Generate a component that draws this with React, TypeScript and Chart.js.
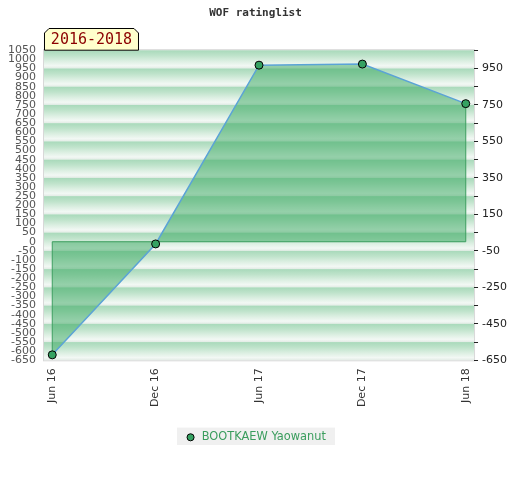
import React, { useEffect, useRef } from "react";
import { Chart, registerables } from "chart.js";

Chart.register(...registerables);

const categories = ["Jun 16", "Dec 16", "Jun 17", "Dec 17", "Jun 18"];
const ratings = [-620, -12, 968, 974, 757];
const leftTicks = [1050, 1000, 950, 900, 850, 800, 750, 700, 650, 600, 550, 500, 450, 400, 350, 300, 250, 200, 150, 100, 50, 0, -50, -100, -150, -200, -250, -300, -350, -400, -450, -500, -550, -600, -650];
const rightTicks = [1050, 950, 850, 750, 650, 550, 450, 350, 250, 150, 50, -50, -150, -250, -350, -450, -550, -650];
const rightLabels = [950, 750, 550, 350, 150, -50, -250, -450, -650];
const seriesName = "BOOTKAEW Yaowanut";
const periodLabel = "2016-2018";
const chartTitle = "WOF ratinglist";

const Y_MIN = -650;
const Y_MAX = 1050;

const bgPlugin = {
  id: "bgStripes",
  beforeDraw(chart: any) {
    const { ctx, chartArea, scales } = chart;
    const y = scales.y;
    ctx.save();
    ctx.fillStyle = "#f4faf6";
    ctx.fillRect(chartArea.left, chartArea.top, chartArea.right - chartArea.left, chartArea.bottom - chartArea.top);
    for (let v = Y_MAX; v > Y_MIN; v -= 100) {
      const top = y.getPixelForValue(v);
      const bot = y.getPixelForValue(Math.max(v - 100, Y_MIN));
      const g = ctx.createLinearGradient(0, top, 0, y.getPixelForValue(v - 100));
      g.addColorStop(0, "#a8d9ba");
      g.addColorStop(0.3, "#bfe3cb");
      g.addColorStop(0.6, "#dcefe2");
      g.addColorStop(0.85, "#f2f8f4");
      g.addColorStop(1, "#e2ebe5");
      ctx.fillStyle = g;
      ctx.fillRect(chartArea.left, top, chartArea.right - chartArea.left, bot - top);
    }
    ctx.strokeStyle = "#d8d8d8";
    ctx.lineWidth = 1;
    ctx.strokeRect(chartArea.left - 0.5, chartArea.top - 0.5, chartArea.right - chartArea.left + 1, chartArea.bottom - chartArea.top + 1);
    const lg = chart.legend;
    if (lg && lg.legendHitBoxes && lg.legendHitBoxes.length) {
      const hb = lg.legendHitBoxes[0];
      ctx.fillStyle = "#f0f0f0";
      ctx.fillRect(hb.left - 8, hb.top - 4, hb.width + 17, hb.height + 6);
    }
    ctx.restore();
  },
  beforeDatasetDraw(chart: any) {
    const { ctx, scales } = chart;
    const x = scales.x;
    const y = scales.y;
    const x0 = x.getPixelForValue(0);
    const xn = x.getPixelForValue(ratings.length - 1);
    const yz = y.getPixelForValue(0);
    ctx.save();
    ctx.strokeStyle = "#3a9d5d";
    ctx.lineWidth = 1;
    ctx.beginPath();
    ctx.moveTo(x0, y.getPixelForValue(ratings[0]));
    ctx.lineTo(x0, yz);
    ctx.lineTo(xn, yz);
    ctx.lineTo(xn, y.getPixelForValue(ratings[ratings.length - 1]));
    ctx.stroke();
    ctx.restore();
  },
  afterDraw(chart: any) {
    const { ctx, chartArea } = chart;
    const left = chartArea.left;
    const w = 95;
    const top = 28;
    const bottom = chartArea.top;
    const c = 5;
    ctx.save();
    ctx.beginPath();
    ctx.moveTo(left + 0.5, bottom);
    ctx.lineTo(left + 0.5, top + c);
    ctx.lineTo(left + c, top + 0.5);
    ctx.lineTo(left + w - c, top + 0.5);
    ctx.lineTo(left + w - 0.5, top + c);
    ctx.lineTo(left + w - 0.5, bottom);
    ctx.closePath();
    ctx.fillStyle = "#ffffcc";
    ctx.fill();
    ctx.strokeStyle = "#000";
    ctx.lineWidth = 1;
    ctx.stroke();
    ctx.fillStyle = "#8b0000";
    ctx.font = "15px 'DejaVu Sans Mono'";
    ctx.textBaseline = "middle";
    ctx.textAlign = "center";
    ctx.fillText(periodLabel, left + w / 2, (top + bottom) / 2 + 1);
    ctx.restore();
  },
};

export default function App() {
  const ref = useRef<HTMLCanvasElement | null>(null);
  useEffect(() => {
    if (!ref.current) return;
    const chart = new Chart(ref.current, {
      type: "line",
      data: {
        datasets: [
          {
            label: seriesName,
            data: ratings.map((v, i) => ({ x: i, y: v })),
            yAxisID: "y",
            borderColor: "#5ba3d6",
            borderWidth: 1.5,
            backgroundColor: "rgba(55,168,95,0.5)",
            fill: "origin",
            tension: 0,
            pointRadius: 4,
            pointBackgroundColor: "#35a262",
            pointBorderColor: "#000",
            pointBorderWidth: 1,
          },
        ],
      },
      options: {
        animation: false,
        responsive: false,
        layout: { padding: { left: 0, right: 9, bottom: 27, top: 0 } },
        scales: {
          x: {
            type: "linear",
            min: -0.08,
            max: 4.08,
            afterBuildTicks(scale: any) {
              scale.ticks = categories.map((_, i) => ({ value: i }));
            },
            ticks: {
              autoSkip: false,
              minRotation: 90,
              maxRotation: 90,
              padding: 8,
              color: "#333",
              font: { family: "'DejaVu Sans'", size: 11 },
              callback: (v: any) => categories[v] ?? "",
            },
            grid: { display: false, drawTicks: false },
            border: { display: false },
          },
          y: {
            type: "linear",
            position: "left",
            min: Y_MIN,
            max: Y_MAX,
            afterBuildTicks(scale: any) {
              scale.ticks = leftTicks.slice().reverse().map((v) => ({ value: v }));
            },
            ticks: {
              autoSkip: false,
              padding: 8,
              color: "#555",
              font: { family: "'DejaVu Sans'", size: 11 },
              callback: (v: any) => String(v),
            },
            grid: { display: false, drawTicks: false },
            border: { display: false },
          },
          y2: {
            type: "linear",
            position: "right",
            min: Y_MIN,
            max: Y_MAX,
            afterBuildTicks(scale: any) {
              scale.ticks = rightTicks.slice().reverse().map((v) => ({ value: v }));
            },
            ticks: {
              autoSkip: false,
              padding: 4,
              color: "#222",
              font: { family: "'DejaVu Sans'", size: 11 },
              callback: (v: any) => (rightLabels.includes(v) ? String(v) : ""),
            },
            grid: { drawOnChartArea: false, drawTicks: true, tickLength: 4, color: "#222", tickWidth: 1 },
            border: { display: false },
          },
        },
        plugins: {
          title: {
            display: true,
            text: chartTitle,
            color: "#333",
            font: { family: "'DejaVu Sans Mono'", size: 11, weight: "bold" },
            padding: { top: 7, bottom: 30 },
          },
          legend: {
            display: true,
            position: "bottom",
            labels: {
              usePointStyle: true,
              boxWidth: 11,
              boxHeight: 5,
              padding: 16.5,
              color: "#3a9d5d",
              font: { family: "'DejaVu Sans'", size: 11.4 },
              generateLabels: () => [
                {
                  text: seriesName,
                  fillStyle: "#35a262",
                  strokeStyle: "#000",
                  lineWidth: 1,
                  pointStyle: "circle",
                  hidden: false,
                  datasetIndex: 0,
                  fontColor: "#3a9d5d",
                },
              ],
            },
          },
          tooltip: { enabled: false },
        },
      },
      plugins: [bgPlugin],
    } as any);
    return () => chart.destroy();
  }, []);
  return (
    <div style={{ position: "fixed", left: 0, top: 0, width: 520, height: 480, background: "#fff" }}>
      <canvas ref={ref} width={520} height={480} style={{ width: 520, height: 480 }} />
    </div>
  );
}
